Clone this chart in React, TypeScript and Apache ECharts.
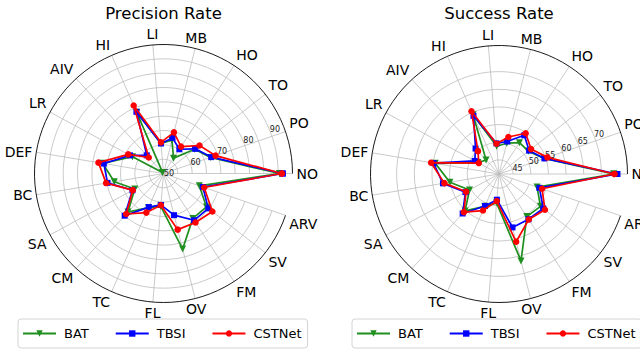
import React, { useEffect, useRef } from 'react';
import * as echarts from 'echarts';

// Attribute categories, placed counter-clockwise starting from the east.
const categories = ['NO', 'PO', 'TO', 'HO', 'MB', 'LI', 'HI', 'AIV', 'LR', 'DEF', 'BC', 'SA', 'CM', 'TC', 'FL', 'OV', 'FM', 'SV', 'ARV'];

// Precision rate per attribute
const precisionBAT = [90.5, 67.3, 63.8, 56.4, 62.0, 60.5, 73.3, 50.5, 62.3, 71.5, 67.4, 61.4, 68.3, 63.0, 61.5, 77.2, 68.7, 69.0, 63.2];
const precisionTBSI = [91.6, 67.6, 64.0, 60.1, 62.8, 60.5, 73.5, 58.6, 63.3, 71.1, 69.8, 62.3, 70.0, 62.8, 61.0, 65.0, 69.5, 69.8, 64.5];
const precisionCSTNet = [91.3, 69.2, 65.9, 61.2, 64.8, 60.9, 75.9, 57.6, 64.0, 73.0, 70.3, 62.2, 69.2, 64.9, 61.1, 70.2, 70.4, 71.6, 65.0];

// Success rate per attribute
const successBAT = [73.5, 54.5, 51.5, 51.6, 50.0, 48.9, 59.3, 46.4, 47.8, 59.3, 55.1, 50.5, 55.2, 51.0, 49.2, 66.4, 55.4, 55.9, 52.4];
const successTBSI = [74.5, 54.6, 51.8, 54.1, 50.5, 49.7, 59.0, 50.8, 48.8, 59.8, 57.1, 51.8, 56.2, 50.9, 48.3, 56.6, 56.3, 56.9, 53.1];
const successCSTNet = [73.7, 55.5, 52.5, 54.8, 51.8, 49.6, 60.4, 49.8, 47.5, 60.5, 56.7, 51.6, 55.7, 52.3, 48.7, 60.8, 56.4, 57.5, 53.9];

// Radial ranges, grid circles and labelled ticks
const precisionRange = [50, 95];
const precisionGrid = [50, 55, 60, 65, 70, 75, 80, 85, 90];
const precisionTickLabels = [50, 60, 70, 80, 90];
const successRange = [41, 77.4];
const successGrid = [45, 50, 55, 60, 65, 70];
const successTickLabels = [45, 50, 55, 60, 65, 70];

const seriesNames = ['BAT', 'TBSI', 'CSTNet'];
const FONT = 'DejaVu Sans';
const GRID_COLOR = '#bcbcbc';

const styles = [
  { color: '#1f8f1f', symbol: 'triangle', symbolRotate: 180, symbolSize: 7 },
  { color: '#0000ff', symbol: 'rect', symbolRotate: 0, symbolSize: 6 },
  { color: '#ff0000', symbol: 'circle', symbolRotate: 0, symbolSize: 6.5 },
];

// Each category sits on an evenly spaced spoke; the first one is repeated
// at 360° so the polygon closes.
function closedLoop(values: number[]) {
  const step = 360 / categories.length;
  const pts = values.map((v, i) => [v, i * step]);
  pts.push([values[0], 360]);
  return pts;
}

export default function App() {
  const ref = useRef<HTMLDivElement>(null);

  useEffect(() => {
    if (!ref.current) return;
    const chart = echarts.init(ref.current, undefined, { renderer: 'svg' });

    const charts = [
      { center: [163.5, 173.5], radius: 129, range: precisionRange, grid: precisionGrid, labels: precisionTickLabels, data: [precisionBAT, precisionTBSI, precisionCSTNet], title: 'Precision Rate', legendLeft: 18 },
      { center: [499, 174], radius: 128.5, range: successRange, grid: successGrid, labels: successTickLabels, data: [successBAT, successTBSI, successCSTNet], title: 'Success Rate', legendLeft: 352 },
    ];

    const polar: any[] = [];
    const angleAxis: any[] = [];
    const radiusAxis: any[] = [];
    const series: any[] = [];

    // 0-1: grid and category labels, 2-3: radial tick labels, 4-5: data
    for (let layer = 0; layer < 3; layer++) {
      charts.forEach((c) => polar.push({ center: c.center, radius: c.radius }));
    }

    charts.forEach((c, k) => {
      angleAxis.push({
        polarIndex: k,
        type: 'category',
        data: categories,
        boundaryGap: false,
        startAngle: 0,
        clockwise: false,
        axisLine: { show: true, lineStyle: { color: '#000', width: 0.9 } },
        axisTick: { show: false },
        axisLabel: { color: '#000', fontSize: 14, fontFamily: FONT, margin: 4 },
        splitLine: { show: true, lineStyle: { color: GRID_COLOR, width: 0.8 } },
        z: 1,
      });
      radiusAxis.push({
        polarIndex: k,
        type: 'value',
        min: c.range[0],
        max: c.range[1],
        axisLine: { show: false },
        axisTick: { show: false, customValues: c.grid },
        axisLabel: { show: false },
        splitLine: { show: true, lineStyle: { color: GRID_COLOR, width: 0.8 } },
        z: 1,
      });
    });

    // Radial tick labels along 22.5°
    charts.forEach((c, k) => {
      angleAxis.push({
        polarIndex: k + 2,
        type: 'value',
        min: 0,
        max: 360,
        startAngle: 22.5,
        clockwise: false,
        show: false,
      });
      radiusAxis.push({
        polarIndex: k + 2,
        type: 'value',
        min: c.range[0],
        max: c.range[1],
        axisLine: { show: false },
        axisTick: { show: false, customValues: c.labels },
        splitLine: { show: false },
        axisLabel: {
          show: true,
          customValues: c.labels,
          margin: 0,
          align: 'center',
          verticalAlign: 'middle',
          padding: [0, 0, 5, 11],
          fontSize: 8,
          fontFamily: FONT,
          color: '#222',
        },
        z: 2,
      });
    });

    // Data layer: same centre, radius and radial range, angle in degrees
    charts.forEach((c, k) => {
      angleAxis.push({
        polarIndex: k + 4,
        type: 'value',
        min: 0,
        max: 360,
        startAngle: 0,
        clockwise: false,
        show: false,
      });
      radiusAxis.push({
        polarIndex: k + 4,
        type: 'value',
        min: c.range[0],
        max: c.range[1],
        show: false,
      });
    });

    charts.forEach((c, k) => {
      c.data.forEach((vals, j) => {
        const s = styles[j];
        series.push({
          name: seriesNames[j],
          type: 'line',
          coordinateSystem: 'polar',
          polarIndex: k + 4,
          data: closedLoop(vals),
          clip: false,
          symbol: s.symbol,
          symbolRotate: s.symbolRotate,
          symbolSize: s.symbolSize,
          showAllSymbol: true,
          lineStyle: { color: s.color, width: 1.7 },
          itemStyle: { color: s.color },
          z: 3 + j,
          silent: true,
        });
      });
    });

    const legend = charts.map((c) => ({
      data: seriesNames,
      left: c.legendLeft,
      top: 319,
      width: 300,
      orient: 'horizontal',
      padding: [8, 6, 8, 4],
      itemGap: 26,
      itemWidth: 33,
      itemHeight: 8,
      backgroundColor: '#fff',
      borderColor: '#d4d4d4',
      borderWidth: 1,
      borderRadius: 3,
      textStyle: { fontSize: 13, fontFamily: FONT, color: '#000', padding: [0, 0, 0, 3] },
      selectedMode: false,
    }));

    const graphic = charts.map((c) => ({
      type: 'text',
      x: c.center[0],
      y: 13.5,
      style: {
        text: c.title,
        align: 'center',
        verticalAlign: 'middle',
        fontSize: 16.5,
        fontFamily: FONT,
        fill: '#000',
      },
    }));

    chart.setOption({
      animation: false,
      backgroundColor: '#fff',
      polar,
      angleAxis,
      radiusAxis,
      legend,
      graphic,
      series,
    });

    return () => chart.dispose();
  }, []);

  return (
    <div
      ref={ref}
      style={{ position: 'fixed', left: 0, top: 0, width: 640, height: 358, background: '#fff' }}
    />
  );
}
